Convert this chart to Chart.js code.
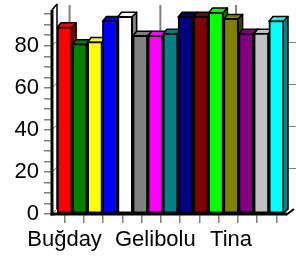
<!DOCTYPE html>
<html>
<head>
<meta charset="utf-8">
<script src="https://cdn.jsdelivr.net/npm/chart.js@4.4.0/dist/chart.umd.min.js"></script>
<style>
  html, body { margin: 0; padding: 0; background: #fff; }
  canvas { display: block; }
</style>
</head>
<body>
<canvas id="chart" width="296" height="257"></canvas>
<script>
// ─── data ───
const categories = ['Buğday', '', '', '', '', '', 'Gelibolu', '', '', '', '', 'Tina', '', '', ''];
const values = [89, 81, 82, 92, 94, 85, 85, 86, 94, 94, 96, 93, 86, 86, 92];
const colors = ['#ff0000', '#008000', '#ffff00', '#0000ff', '#ffffff', '#808080', '#ff00ff', '#008080',
                '#000080', '#800000', '#00ff00', '#808000', '#800080', '#c0c0c0', '#00ffff'];
const yMax = 97;
const xTickCount = 11;

const DEPTH = 4;

// half-brightness version of a hex colour, used for bar sides
const shade = hex => {
    const n = parseInt(hex.slice(1), 16);
    return `rgb(${(n >> 16 & 255) >> 1},${(n >> 8 & 255) >> 1},${(n & 255) >> 1})`;
};

const line = (ctx, x1, y1, x2, y2) => {
    ctx.beginPath();
    ctx.moveTo(x1, y1);
    ctx.lineTo(x2, y2);
    ctx.stroke();
};

const poly = (ctx, pts) => {
    ctx.beginPath();
    pts.forEach(([px, py], i) => i ? ctx.lineTo(px, py) : ctx.moveTo(px, py));
    ctx.closePath();
    ctx.fill();
    ctx.stroke();
};

// fake 3D: back wall grid, bar sides/tops, left wall and floor
const box3d = {
    id: 'box3d',
    beforeDatasetsDraw(chart) {
        const { ctx, chartArea: a, scales: { x, y } } = chart;
        ctx.save();
        ctx.strokeStyle = '#808080';
        ctx.lineWidth = 2;
        categories.forEach((c, i) => {
            if (!c) return;
            const px = x.getPixelForValue(i) + DEPTH + 1;
            line(ctx, px, a.top - DEPTH - 1, px, a.bottom - DEPTH);
        });
        ctx.lineWidth = 1;
        y.ticks.forEach(t => {
            if (t.value > 0 && t.value % 20 === 0) {
                const py = Math.round(y.getPixelForValue(t.value) - DEPTH) + 0.5;
                line(ctx, a.right + DEPTH, py, chart.width, py);
            }
        });

        ctx.strokeStyle = '#000';
        ctx.lineWidth = 1.5;
        ctx.lineJoin = 'round';
        chart.getDatasetMeta(0).data.forEach((bar, i) => {
            const { x: cx, y: top, base, width } = bar.getProps(['x', 'y', 'base', 'width'], true);
            const l = cx - width / 2, r = cx + width / 2;
            ctx.fillStyle = shade(colors[i]);
            poly(ctx, [[r - 1, top], [r + DEPTH, top - DEPTH], [r + DEPTH, base - DEPTH], [r - 1, base]]);
            ctx.fillStyle = colors[i];
            poly(ctx, [[l, top + 1], [l + DEPTH, top - DEPTH], [r + DEPTH, top - DEPTH], [r - 1, top + 1]]);
        });
        ctx.restore();
    },
    afterDraw(chart) {
        const { ctx, chartArea: a, scales: { y } } = chart;
        const wd = 5;
        const wl = a.left - wd;
        ctx.save();
        // left wall
        ctx.fillStyle = '#fff';
        ctx.beginPath();
        ctx.moveTo(wl, a.bottom);
        ctx.lineTo(wl, a.top);
        ctx.lineTo(a.left, a.top - wd - 1);
        ctx.lineTo(a.left, a.bottom - wd);
        ctx.closePath();
        ctx.fill();
        ctx.strokeStyle = '#808080';
        ctx.lineWidth = 1;
        y.ticks.forEach(t => {
            if (t.value % 20 === 0) {
                const py = y.getPixelForValue(t.value);
                line(ctx, wl, py, a.left, py - wd);
            }
        });
        ctx.strokeStyle = '#000';
        ctx.lineWidth = 1.5;
        line(ctx, a.left, a.top - wd - 1, a.left, a.bottom - wd);
        line(ctx, wl, a.top, a.left, a.top - wd - 1);
        ctx.lineWidth = 3;
        line(ctx, wl, a.top, wl, a.bottom + 1.5);
        // floor
        line(ctx, wl - 1.5, a.bottom, a.right + 3, a.bottom);
        ctx.lineWidth = 2;
        line(ctx, a.right + 2, a.bottom + 1, a.right + 10, a.bottom - 5);
        ctx.restore();
    }
};

Chart.defaults.font.family = "'Liberation Sans', Arial, sans-serif";
Chart.defaults.font.size = 22;
Chart.defaults.color = '#000';

new Chart(document.getElementById('chart').getContext('2d'), {
    type: 'bar',
    data: {
        labels: categories,
        datasets: [{
            xAxisID: 'x',
            yAxisID: 'y',
            data: values,
            backgroundColor: colors,
            borderColor: '#000',
            borderWidth: 2,
            borderSkipped: false,
            barPercentage: 1,
            categoryPercentage: 1
        }]
    },
    options: {
        responsive: false,
        animation: false,
        layout: { padding: { top: 10, right: 12, left: 0, bottom: 0 } },
        plugins: { legend: { display: false }, tooltip: { enabled: false } },
        scales: {
            x: {
                type: 'category',
                position: 'bottom',
                weight: 1,
                afterFit: s => { s.height = 43; s.paddingLeft = 0; s.paddingRight = 0; },
                grid: { display: false, drawTicks: false },
                border: { display: false },
                ticks: { autoSkip: false, maxRotation: 0, padding: 13 }
            },
            xt: {
                type: 'linear',
                position: 'bottom',
                weight: 0,
                min: -0.5,
                max: categories.length - 0.5,
                afterBuildTicks: s => {
                    s.ticks = Array.from({ length: xTickCount },
                        (_, i) => ({ value: i * (categories.length - 1) / (xTickCount - 1) }));
                },
                afterFit: s => { s.height = 0; },
                ticks: { display: false },
                grid: { drawOnChartArea: false, tickLength: 9, color: '#808080', lineWidth: 1.5 },
                border: { display: false }
            },
            y: {
                min: 0,
                max: yMax,
                afterFit: s => { s.width = 57; s.paddingTop = 0; s.paddingBottom = 0; },
                grid: { drawOnChartArea: false, tickLength: 13, color: '#808080', lineWidth: 1.5 },
                border: { display: false },
                ticks: {
                    stepSize: 5,
                    autoSkip: false,
                    includeBounds: false,
                    padding: 5,
                    callback: v => v % 20 === 0 ? v : ''
                }
            }
        }
    },
    plugins: [box3d]
});
</script>
</body>
</html>
